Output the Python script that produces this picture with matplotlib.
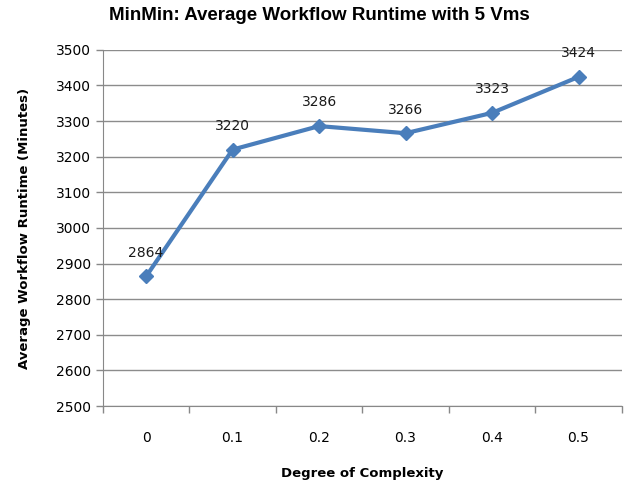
import matplotlib.pyplot as plt
import numpy as np

complexity = ["0", "0.1", "0.2", "0.3", "0.4", "0.5"]
runtime = [2864, 3220, 3286, 3266, 3323, 3424]

fig = plt.figure(figsize=(6.39, 4.84), dpi=100)
ax = fig.add_axes([0.161, 0.161, 0.812, 0.736])

x = np.arange(len(complexity))
ax.plot(x, runtime, color="#4a7ebb", linewidth=3, marker="D", markersize=7)

for xi, v in zip(x, runtime):
    ax.annotate(str(v), (xi, v), xytext=(0, 12), textcoords="offset points",
                ha="center", va="bottom", fontsize=10, color="#1a1a1a")

ax.set_xlim(-0.5, len(complexity) - 0.5)
ax.set_ylim(2500, 3500)
ax.set_yticks(range(2500, 3501, 100))
ax.tick_params(axis="y", labelsize=10, length=5, color="#888888", width=1)

# category labels centred, tick marks on the boundaries
ax.set_xticks(x)
ax.set_xticklabels(complexity, fontsize=10)
ax.tick_params(axis="x", which="major", length=0, pad=18)
ax.set_xticks(np.arange(-0.5, len(complexity)), minor=True)
ax.tick_params(axis="x", which="minor", length=5, color="#888888", width=1)

ax.grid(axis="y", color="#8c8c8c", linewidth=1)
ax.set_axisbelow(True)
for s in ["top", "right"]:
    ax.spines[s].set_visible(False)
for s in ["left", "bottom"]:
    ax.spines[s].set_color("#888888")

ax.set_xlabel("Degree of Complexity", fontsize=9.5, fontweight="bold", labelpad=16)
ax.set_ylabel("Average Workflow Runtime (Minutes)", fontsize=9.5, fontweight="bold", labelpad=18)
fig.suptitle("MinMin: Average Workflow Runtime with 5 Vms", fontsize=13.5,
             fontweight="bold", family="Liberation Sans", y=0.985)

fig.savefig("out.png", dpi=100)
